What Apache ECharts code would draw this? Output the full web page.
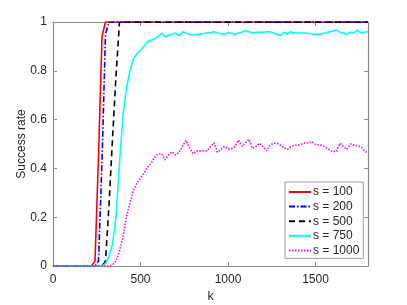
<!DOCTYPE html>
<html>
<head>
<meta charset="utf-8">
<script src="https://cdn.jsdelivr.net/npm/echarts@6/dist/echarts.min.js"></script>
<style>
html,body{margin:0;padding:0;background:#fff;}
#c{width:407px;height:305px;}
</style>
</head>
<body>
<div id="c"></div>
<script>
var kValues = [0,20,40,60,80,100,120,140,160,180,200,220,240,260,280,300,320,340,360,380,400,420,440,460,480,500,520,540,560,580,600,620,640,660,680,700,720,740,760,780,800,820,840,860,880,900,920,940,960,980,1000,1020,1040,1060,1080,1100,1120,1140,1160,1180,1200,1220,1240,1260,1280,1300,1320,1340,1360,1380,1400,1420,1440,1460,1480,1500,1520,1540,1560,1580,1600,1620,1640,1660,1680,1700,1720,1740,1760,1780,1800];

var s100 = [0,0,0,0,0,0,0,0,0,0,0,0,0.02,0.45,0.94,1,1,1,1,1,1,1,1,1,1,1,1,1,1,1,1,1,1,1,1,1,1,1,1,1,1,1,1,1,1,1,1,1,1,1,1,1,1,1,1,1,1,1,1,1,1,1,1,1,1,1,1,1,1,1,1,1,1,1,1,1,1,1,1,1,1,1,1,1,1,1,1,1,1,1,1];
var s200 = [0,0,0,0,0,0,0,0,0,0,0,0,0,0.02,0.43,0.95,1,1,1,1,1,1,1,1,1,1,1,1,1,1,1,1,1,1,1,1,1,1,1,1,1,1,1,1,1,1,1,1,1,1,1,1,1,1,1,1,1,1,1,1,1,1,1,1,1,1,1,1,1,1,1,1,1,1,1,1,1,1,1,1,1,1,1,1,1,1,1,1,1,1,1];
var s500 = [0,0,0,0,0,0,0,0,0,0,0,0,0,0,0,0.02,0.25,0.52,0.78,1,1,1,1,1,1,1,1,1,1,1,1,1,1,1,1,1,1,1,1,1,1,1,1,1,1,1,1,1,1,1,1,1,1,1,1,1,1,1,1,1,1,1,1,1,1,1,1,1,1,1,1,1,1,1,1,1,1,1,1,1,1,1,1,1,1,1,1,1,1,1,1];
var s750 = [0,0,0,0,0,0,0,0,0,0,0,0,0,0,0,0.01,0.04,0.09,0.2,0.42,0.62,0.73,0.8,0.85,0.87,0.885,0.9,0.92,0.925,0.93,0.94,0.955,0.94,0.945,0.95,0.955,0.943,0.96,0.955,0.95,0.947,0.95,0.95,0.953,0.956,0.956,0.96,0.955,0.953,0.95,0.956,0.955,0.95,0.955,0.958,0.965,0.96,0.955,0.958,0.958,0.958,0.96,0.96,0.955,0.95,0.944,0.958,0.95,0.96,0.955,0.955,0.955,0.955,0.953,0.95,0.95,0.95,0.953,0.956,0.96,0.963,0.967,0.956,0.955,0.95,0.958,0.955,0.967,0.955,0.958,0.96];
var s1000 = [0,0,0,0,0,0,0,0,0,0,0,0,0,0,0,0,0,0.005,0.02,0.06,0.12,0.2,0.26,0.31,0.34,0.36,0.38,0.405,0.42,0.445,0.46,0.46,0.435,0.455,0.468,0.455,0.465,0.49,0.515,0.485,0.46,0.472,0.472,0.472,0.472,0.489,0.505,0.466,0.478,0.49,0.48,0.48,0.49,0.516,0.49,0.505,0.519,0.482,0.49,0.503,0.49,0.472,0.496,0.503,0.503,0.495,0.485,0.478,0.49,0.495,0.495,0.5,0.505,0.505,0.51,0.498,0.496,0.494,0.485,0.476,0.468,0.47,0.503,0.489,0.478,0.5,0.495,0.493,0.489,0.472,0.462];

var seriesNames = ['s = 100','s = 200','s = 500','s = 750','s = 1000'];
var xTicks = {min:0, max:1800, interval:500};
var yTicks = {min:0, max:1, interval:0.2};

function pairs(vals){ return kValues.map(function(k,i){ return [k, vals[i]]; }); }

var font = 'Liberation Sans, Arial, Helvetica, sans-serif';
var axisCol = '#8a8a8a';
var textCol = '#262626';

var chart = echarts.init(document.getElementById('c'), null, {renderer:'canvas'});

function baseAxis(extra){
  var a = {
    type:'value', gridIndex:0,
    axisLine:{show:true, onZero:false, lineStyle:{color:axisCol, width:1.2}},
    axisTick:{show:true, inside:true, length:4, lineStyle:{color:axisCol, width:1}},
    splitLine:{show:false},
    axisLabel:{show:false}
  };
  for (var k in extra) a[k] = extra[k];
  return a;
}

var option = {
  backgroundColor:'#fff',
  animation:false,
  grid:{left:53, right:39, top:22, bottom:39, containLabel:false, outerBoundsMode:'none'},
  xAxis:[
    baseAxis({position:'bottom', min:xTicks.min, max:xTicks.max, interval:xTicks.interval,
      name:'k', nameLocation:'middle', nameGap:24, nameMoveOverlap:false,
      nameTextStyle:{color:textCol, fontSize:12.5, fontFamily:font},
      axisLabel:{show:true, margin:8, color:textCol, fontSize:12, fontFamily:font, showMaxLabel:false,
        formatter:function(v){ return String(v); }}}),
    baseAxis({position:'top', min:xTicks.min, max:xTicks.max, interval:xTicks.interval})
  ],
  yAxis:[
    baseAxis({position:'left', min:yTicks.min, max:yTicks.max, interval:yTicks.interval,
      name:'Success rate', nameLocation:'middle', nameGap:25, nameMoveOverlap:false,
      nameTextStyle:{color:textCol, fontSize:12, fontFamily:font},
      axisLabel:{show:true, margin:6, color:textCol, fontSize:12, fontFamily:font,
        formatter:function(v){ return String(Math.round(v*10)/10); }}}),
    baseAxis({position:'right', min:yTicks.min, max:yTicks.max, interval:yTicks.interval})
  ],
  legend:{
    orient:'vertical', left:285, top:182,
    backgroundColor:'#fff', borderColor:'#a0a0a0', borderWidth:1, borderRadius:0,
    padding:[4,4,2,3],
    itemWidth:22, itemHeight:14, itemGap:2.6,
    itemStyle:{opacity:0},
    textStyle:{color:textCol, fontSize:12, fontFamily:font, padding:[0,0,0,-3]},
    data:seriesNames
  },
  series:[
    {name:seriesNames[0], type:'line', data:pairs(s100), showSymbol:false, symbol:'none',
      lineStyle:{color:'#ff0000', width:1.6, type:'solid'}, itemStyle:{color:'#ff0000'}},
    {name:seriesNames[1], type:'line', data:pairs(s200), showSymbol:false, symbol:'none',
      lineStyle:{color:'#0000ff', width:1.6, type:[6,2,1.5,2]}, itemStyle:{color:'#0000ff'}},
    {name:seriesNames[2], type:'line', data:pairs(s500), showSymbol:false, symbol:'none',
      lineStyle:{color:'#000000', width:1.6, type:[6,4]}, itemStyle:{color:'#000000'}},
    {name:seriesNames[3], type:'line', data:pairs(s750), showSymbol:false, symbol:'none',
      lineStyle:{color:'#00ffff', width:1.6, type:'solid'}, itemStyle:{color:'#00ffff'}},
    {name:seriesNames[4], type:'line', data:pairs(s1000), showSymbol:false, symbol:'none',
      lineStyle:{color:'#ff00ff', width:1.6, type:[1.5,1.5]}, itemStyle:{color:'#ff00ff'}}
  ]
};
chart.setOption(option);
</script>
</body>
</html>
